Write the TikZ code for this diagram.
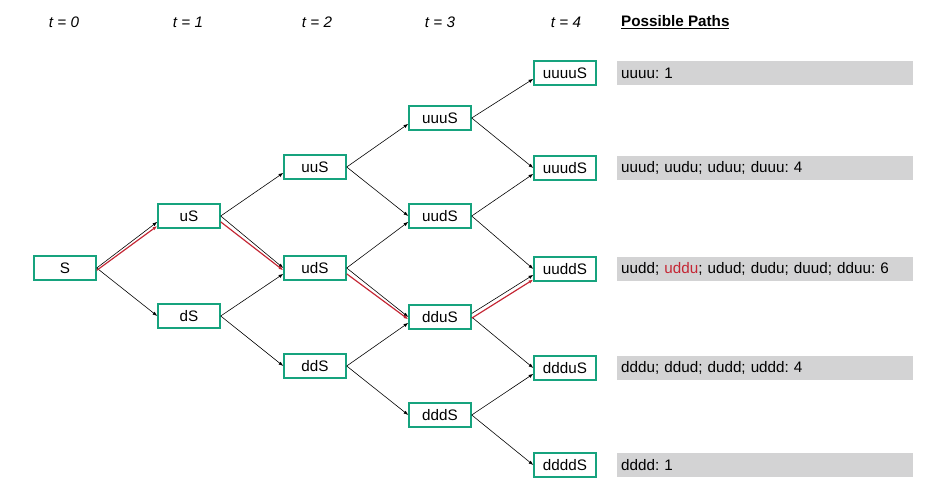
\documentclass[tikz,border=0pt]{standalone}
\usepackage{fontspec}
\setmainfont{Liberation Sans}
\usepackage{tikz}
\usetikzlibrary{arrows.meta,calc}
\definecolor{boxgreen}{RGB}{22,163,126}
\definecolor{pathred}{RGB}{196,38,52}
\definecolor{pathgray}{RGB}{211,211,212}
\frenchspacing

\begin{document}
\begin{tikzpicture}[x=0.03cm,y=-0.03cm,>={Latex[length=4pt,width=3pt]},
	state/.style={draw=boxgreen,line width=1.2pt,rectangle,minimum width=1.86cm,minimum height=0.72cm,inner sep=0pt,font=\fontsize{13}{15}\selectfont},
	paths/.style={fill=pathgray,rectangle,anchor=west,text width=8.64cm,align=left,inner xsep=0.12cm,minimum height=0.72cm,font=\fontsize{13}{15}\selectfont},
	time/.style={font=\fontsize{13}{15}\selectfont\itshape},
	move/.style={->,line width=0.5pt},
	red move/.style={->,line width=1pt,draw=pathred}]
		\useasboundingbox (0,0) rectangle (952,490);
		% time steps
		\node (t0) [time] at (64,22) {t = 0};
		\node (t1) [time] at (188,22) {t = 1};
		\node (t2) [time] at (317,22) {t = 2};
		\node (t3) [time] at (440,22) {t = 3};
		\node (t4) [time] at (566,22) {t = 4};
		\node (head) [anchor=west,font=\fontsize{13}{15}\selectfont\bfseries] at (617,22) {\underline{Possible Paths}};
		% tree
		\node (S)     [state] at (65,268) {S};
		\node (uS)    [state] at (189,216) {uS};
		\node (dS)    [state] at (189,316) {dS};
		\node (uuS)   [state] at (315,167) {uuS};
		\node (udS)   [state] at (315,268) {udS};
		\node (ddS)   [state] at (315,366) {ddS};
		\node (uuuS)  [state] at (440,118) {uuuS};
		\node (uudS)  [state] at (440,216) {uudS};
		\node (dduS)  [state] at (440,317) {dduS};
		\node (dddS)  [state] at (440,415) {dddS};
		\node (uuuuS) [state] at (565,73) {uuuuS};
		\node (uuudS) [state] at (565,168) {uuudS};
		\node (uuddS) [state] at (565,269) {uuddS};
		\node (ddduS) [state] at (565,368) {ddduS};
		\node (ddddS) [state] at (565,465) {ddddS};
		% paths
		\node (p4) [paths] at (617,73) {uuuu: 1};
		\node (p3) [paths] at (617,168) {uuud; uudu; uduu; duuu: 4};
		\node (p2) [paths] at (617,269) {uudd; \textcolor{pathred}{uddu}; udud; dudu; duud; dduu: 6};
		\node (p1) [paths] at (617,368) {dddu; ddud; dudd; uddd: 4};
		\node (p0) [paths] at (617,465) {dddd: 1};
		% black moves
		\draw [move] (S.east) -- ([yshift=-5pt]uS.west);
		\draw [move] (S.east) -- (dS.west);
		\draw [move] (uS.east) -- ([yshift=-5pt]uuS.west);
		\draw [move] (uS.east) -- (udS.west);
		\draw [move] (dS.east) -- ([yshift=-5pt]udS.west);
		\draw [move] (dS.east) -- (ddS.west);
		\draw [move] (uuS.east) -- ([yshift=-5pt]uuuS.west);
		\draw [move] (uuS.east) -- (uudS.west);
		\draw [move] (udS.east) -- ([yshift=-5pt]uudS.west);
		\draw [move] (udS.east) -- (dduS.west);
		\draw [move] (ddS.east) -- ([yshift=-5pt]dduS.west);
		\draw [move] (ddS.east) -- (dddS.west);
		\draw [move] (uuuS.east) -- ([yshift=-5pt]uuuuS.west);
		\draw [move] (uuuS.east) -- (uuudS.west);
		\draw [move] (uudS.east) -- ([yshift=-5pt]uuudS.west);
		\draw [move] (uudS.east) -- (uuddS.west);
		\draw [move] ([yshift=3pt]dduS.east) -- ([yshift=-5pt]uuddS.west);
		\draw [move] (dduS.east) -- (ddduS.west);
		\draw [move] (dddS.east) -- ([yshift=-5pt]ddduS.west);
		\draw [move] (dddS.east) -- (ddddS.west);
		% the path uddu
		\draw [red move] ([yshift=-2pt]S.east) -- ([yshift=-8.5pt]uS.west);
		\draw [red move] ([yshift=-5pt]uS.east) -- ([yshift=-2pt]udS.west);
		\draw [red move] ([yshift=-5pt]udS.east) -- ([yshift=-2pt]dduS.west);
		\draw [red move] ([yshift=-1pt]dduS.east) -- ([yshift=-9pt]uuddS.west);
	\end{tikzpicture}
\end{document}
